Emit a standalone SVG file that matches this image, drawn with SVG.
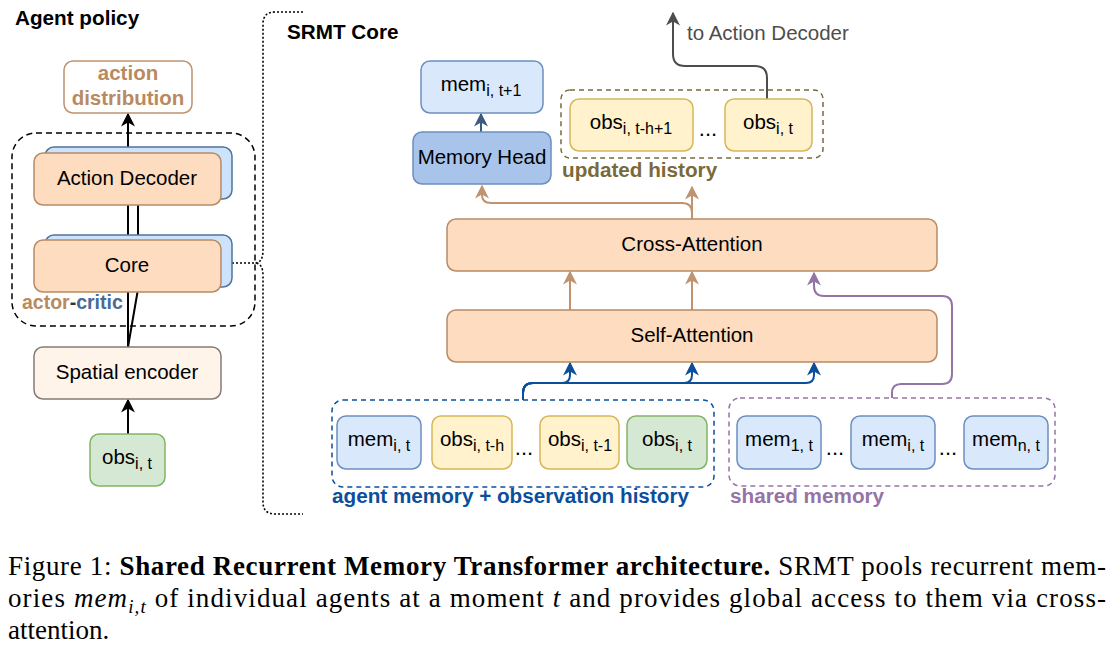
<svg xmlns="http://www.w3.org/2000/svg" width="1118" height="652" viewBox="0 0 1118 652">
<style>
text{font-family:"Liberation Sans",Arial,sans-serif;fill:#000}
.lbl{font-size:20.5px;text-anchor:middle}
.sub{font-size:16px}
.dots{font-size:22px;text-anchor:middle}
.ttl{font-size:20.7px;font-weight:bold}
.orange{fill:#fedcbf;stroke:#b88b66;stroke-width:1.5}
.back{fill:#cce3fb;stroke:#52739c;stroke-width:1.5}
.blue{fill:#dae8fc;stroke:#6c8ebf;stroke-width:1.5}
.yellow{fill:#fff2cc;stroke:#d6b656;stroke-width:1.5}
.green{fill:#d5e8d4;stroke:#82b366;stroke-width:1.5}
.cap{font-family:"Liberation Serif","Times New Roman",serif;font-size:27px}
.conn{fill:none;stroke-width:2}
</style>
<defs>
<marker id="aBlack" markerUnits="userSpaceOnUse" markerWidth="14" markerHeight="14" viewBox="0 0 10 10" refX="9" refY="5" orient="auto"><path d="M0,0 L10,5 L0,10 L3,5 z" fill="#000"/></marker>
<marker id="aBrown" markerUnits="userSpaceOnUse" markerWidth="14" markerHeight="14" viewBox="0 0 10 10" refX="9" refY="5" orient="auto"><path d="M0,0 L10,5 L0,10 L3,5 z" fill="#c09370"/></marker>
<marker id="aBlue" markerUnits="userSpaceOnUse" markerWidth="14" markerHeight="14" viewBox="0 0 10 10" refX="9" refY="5" orient="auto"><path d="M0,0 L10,5 L0,10 L3,5 z" fill="#0b4f9c"/></marker>
<marker id="aPurple" markerUnits="userSpaceOnUse" markerWidth="14" markerHeight="14" viewBox="0 0 10 10" refX="9" refY="5" orient="auto"><path d="M0,0 L10,5 L0,10 L3,5 z" fill="#9673a6"/></marker>
<marker id="aGray" markerUnits="userSpaceOnUse" markerWidth="14" markerHeight="14" viewBox="0 0 10 10" refX="9" refY="5" orient="auto"><path d="M0,0 L10,5 L0,10 L3,5 z" fill="#4d4d4d"/></marker>
<marker id="aSlate" markerUnits="userSpaceOnUse" markerWidth="14" markerHeight="14" viewBox="0 0 10 10" refX="9" refY="5" orient="auto"><path d="M0,0 L10,5 L0,10 L3,5 z" fill="#3d5a80"/></marker>
</defs>

<!-- Titles -->
<text class="ttl" x="15" y="25">Agent policy</text>
<text class="ttl" x="287" y="39">SRMT Core</text>
<text x="687" y="40" style="font-size:20.5px;fill:#4d4d4d">to Action Decoder</text>

<!-- Group boxes -->
<g id="actor-critic-group">
<rect x="12" y="133" width="243" height="193" rx="24" fill="none" stroke="#000" stroke-width="1.5" stroke-dasharray="6,4"/>
<text x="22" y="309" style="font-size:19.5px;font-weight:bold"><tspan fill="#b98a60">actor</tspan><tspan fill="#333">-</tspan><tspan fill="#4a6a94">critic</tspan></text>
</g>
<g id="updated-history-group">
<rect x="561" y="90" width="262" height="68" rx="9" fill="none" stroke="#7a6a3a" stroke-width="1.5" stroke-dasharray="5,4"/>
<text class="ttl" x="562" y="177" style="fill:#7a6a3a">updated history</text>
</g>
<g id="agent-memory-group">
<rect x="332" y="400" width="382" height="87" rx="11" fill="none" stroke="#0b4f9c" stroke-width="1.5" stroke-dasharray="5,4"/>
<text class="ttl" x="332" y="503" style="fill:#0b4f9c">agent memory + observation history</text>
</g>
<g id="shared-memory-group">
<rect x="729" y="398" width="326" height="88" rx="11" fill="none" stroke="#9673a6" stroke-width="1.5" stroke-dasharray="5,4"/>
<text class="ttl" x="730" y="503" style="fill:#9673a6">shared memory</text>
</g>

<!-- Connectors -->
<g id="connectors">
<path class="conn" d="M128,152 L128,114" stroke="#000" marker-end="url(#aBlack)"/>
<path class="conn" d="M128,205 L128,240 M138,205 L138,240" stroke="#000"/>
<path class="conn" d="M128,292 L128,347 M137.5,292 L128,347" stroke="#000"/>
<path class="conn" d="M128,434 L128,400" stroke="#000" marker-end="url(#aBlack)"/>
<path d="M232,263 L255,263 M303,12 L275,12 Q263,12 263,24 L263,250 Q263,263 255,263 Q263,263 263,276 L263,502 Q263,514 275,514 L303,514" fill="none" stroke="#000" stroke-width="1.6" stroke-dasharray="2,2"/>
<path class="conn" d="M481,132 L481,114" stroke="#3d5a80" marker-end="url(#aSlate)"/>
<path class="conn" d="M767,99 L767,78 Q767,66 755,66 L685,66 Q673,66 673,54 L673,13" stroke="#4d4d4d" marker-end="url(#aGray)"/>
<path class="conn" d="M692,219 L692,187" stroke="#c09370" marker-end="url(#aBrown)"/>
<path class="conn" d="M692,213 Q692,203 682,203 L491,203 Q482,203 482,195 L482,186" stroke="#c09370" marker-end="url(#aBrown)"/>
<path class="conn" d="M570,310 L570,272" stroke="#c09370" marker-end="url(#aBrown)"/>
<path class="conn" d="M692,310 L692,272" stroke="#c09370" marker-end="url(#aBrown)"/>
<path class="conn" d="M892,398 L892,393 Q892,384 901,384 L942,384 Q952,384 952,374 L952,306 Q952,296 942,296 L824,296 Q814,296 814,286 L814,273" stroke="#9673a6" marker-end="url(#aPurple)"/>
<path class="conn" d="M523,400 L523,393 Q523,383 533,383 L562,383 Q570,383 570,375 L570,363" stroke="#0b4f9c" marker-end="url(#aBlue)"/>
<path class="conn" d="M523,400 L523,393 Q523,383 533,383 L684,383 Q692,383 692,375 L692,363" stroke="#0b4f9c" marker-end="url(#aBlue)"/>
<path class="conn" d="M523,400 L523,393 Q523,383 533,383 L806,383 Q814,383 814,375 L814,363" stroke="#0b4f9c" marker-end="url(#aBlue)"/>
</g>

<!-- Left panel nodes -->
<g id="action-distribution">
<rect x="64" y="61" width="128" height="52" rx="9" fill="#fff" stroke="#c09370" stroke-width="1.5"/>
<text class="lbl" x="128" y="80" style="font-weight:bold;fill:#b98a60">action</text>
<text class="lbl" x="128" y="105" style="font-weight:bold;fill:#b98a60">distribution</text>
</g>
<g id="action-decoder">
<rect class="back" x="45" y="147" width="187" height="52" rx="9"/>
<rect class="orange" x="34" y="153" width="187" height="52" rx="9"/>
<text class="lbl" x="127" y="185">Action Decoder</text>
</g>
<g id="core">
<rect class="back" x="45" y="235" width="187" height="52" rx="9"/>
<rect class="orange" x="34" y="240" width="187" height="52" rx="9"/>
<text class="lbl" x="127" y="272">Core</text>
</g>
<g id="spatial-encoder">
<rect x="34" y="347" width="187" height="52" rx="9" fill="#fff4e9" stroke="#857b75" stroke-width="1.5"/>
<text class="lbl" x="127" y="379">Spatial encoder</text>
</g>
<g id="obs-left">
<rect class="green" x="90" y="434" width="75" height="52" rx="9"/>
<text class="lbl" x="127" y="464">obs<tspan class="sub" dy="5">i, t</tspan></text>
</g>

<!-- SRMT core nodes -->
<g id="mem-next">
<rect class="blue" x="421" y="61" width="122" height="52" rx="9"/>
<text class="lbl" x="481" y="91">mem<tspan class="sub" dy="5">i, t+1</tspan></text>
</g>
<g id="memory-head">
<rect x="413" y="132" width="138" height="52" rx="9" fill="#a9c4eb" stroke="#6c8ebf" stroke-width="1.5"/>
<text class="lbl" x="482" y="164">Memory Head</text>
</g>
<g id="obs-t-h1">
<rect class="yellow" x="570" y="99" width="123" height="52" rx="9"/>
<text class="lbl" x="631" y="129">obs<tspan class="sub" dy="5">i, t-h+1</tspan></text>
</g>
<text class="dots" x="708" y="136">...</text>
<g id="obs-t-top">
<rect class="yellow" x="725" y="99" width="87" height="52" rx="9"/>
<text class="lbl" x="768" y="129">obs<tspan class="sub" dy="5">i, t</tspan></text>
</g>
<g id="cross-attention">
<rect class="orange" x="447" y="219" width="490" height="52" rx="9"/>
<text class="lbl" x="692" y="251">Cross-Attention</text>
</g>
<g id="self-attention">
<rect class="orange" x="447" y="310" width="490" height="52" rx="9"/>
<text class="lbl" x="692" y="342">Self-Attention</text>
</g>

<!-- agent memory row -->
<g id="mem-i-t">
<rect class="blue" x="337" y="416" width="84" height="53" rx="9"/>
<text class="lbl" x="379" y="446">mem<tspan class="sub" dy="5">i, t</tspan></text>
</g>
<g id="obs-t-h">
<rect class="yellow" x="432" y="416" width="80" height="53" rx="9"/>
<text class="lbl" x="472" y="446">obs<tspan class="sub" dy="5">i, t-h</tspan></text>
</g>
<text class="dots" x="524" y="455">...</text>
<g id="obs-t-1">
<rect class="yellow" x="540" y="416" width="79" height="53" rx="9"/>
<text class="lbl" x="580" y="446">obs<tspan class="sub" dy="5">i, t-1</tspan></text>
</g>
<g id="obs-t-bottom">
<rect class="green" x="627" y="416" width="80" height="53" rx="9"/>
<text class="lbl" x="667" y="446">obs<tspan class="sub" dy="5">i, t</tspan></text>
</g>

<!-- shared memory row -->
<g id="mem-1-t">
<rect class="blue" x="737" y="416" width="84" height="53" rx="9"/>
<text class="lbl" x="779" y="446">mem<tspan class="sub" dy="5">1, t</tspan></text>
</g>
<text class="dots" x="835" y="455">...</text>
<g id="mem-i-t-shared">
<rect class="blue" x="851" y="416" width="84" height="53" rx="9"/>
<text class="lbl" x="893" y="446">mem<tspan class="sub" dy="5">i, t</tspan></text>
</g>
<text class="dots" x="948" y="455">...</text>
<g id="mem-n-t">
<rect class="blue" x="964" y="416" width="84" height="53" rx="9"/>
<text class="lbl" x="1006" y="446">mem<tspan class="sub" dy="5">n, t</tspan></text>
</g>

<!-- Caption -->
<text class="cap" x="8" y="575" textLength="1098" lengthAdjust="spacing">Figure 1: <tspan font-weight="bold">Shared Recurrent Memory Transformer architecture.</tspan> SRMT pools recurrent mem-</text>
<text class="cap" x="8" y="607" textLength="1098" lengthAdjust="spacing">ories <tspan font-style="italic">mem</tspan><tspan font-style="italic" font-size="19" dy="6">i,t</tspan><tspan dy="-6"> of individual agents at a moment </tspan><tspan font-style="italic">t</tspan> and provides global access to them via cross-</text>
<text class="cap" x="8" y="639">attention.</text>
</svg>
